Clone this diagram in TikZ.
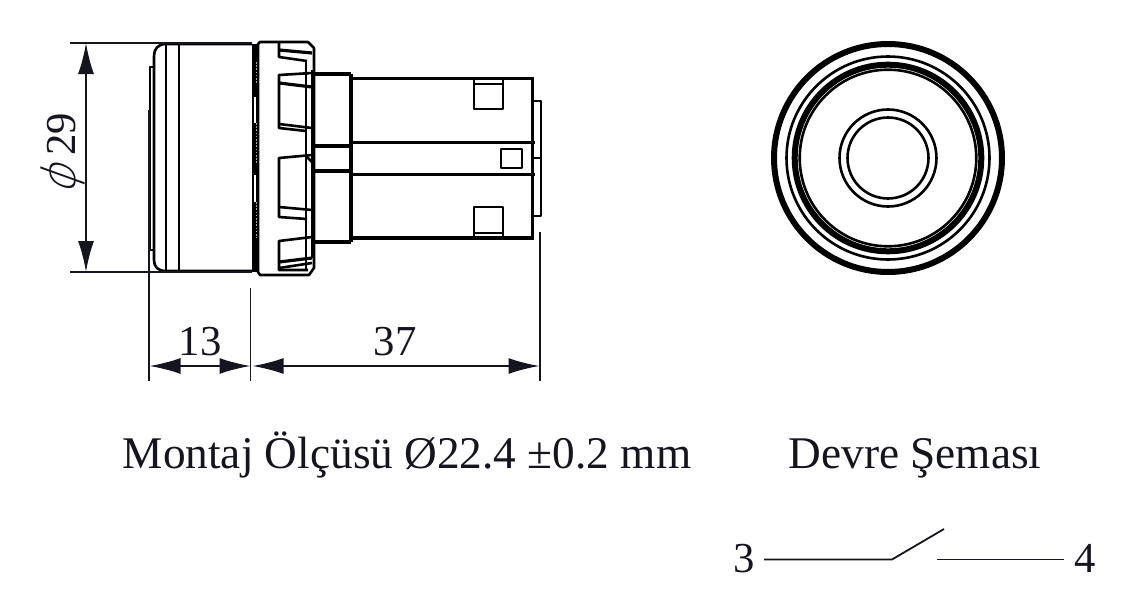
\documentclass[tikz,border=0pt]{standalone}
\usepackage{fontspec}
\setmainfont{Liberation Serif}
\newfontfamily\phifont[FakeSlant=0.36]{DejaVu Sans ExtraLight}
\usetikzlibrary{arrows.meta}
\definecolor{inkdim}{HTML}{15151F}
\tikzset{
  outline/.style={draw=black,line width=2.6pt,line join=round},
  heavy/.style={draw=black,line width=3.2pt},
  thin ext/.style={draw=inkdim,line width=1.7pt},
  dimline/.style={draw=inkdim,line width=1.9pt,{Latex[length=31pt,width=16pt]}-{Latex[length=31pt,width=16pt]}},
  label/.style={font=\fontsize{42.7}{50}\selectfont,text=inkdim,inner sep=0pt,anchor=base},
  caption/.style={font=\fontsize{45.3}{52}\selectfont,text=inkdim,inner sep=0pt,anchor=base},
  wire/.style={draw=inkdim,line width=1.8pt},
}
\begin{document}
\begin{tikzpicture}[x=1pt,y=-1pt]
\useasboundingbox (0,0) rectangle (1136,613);

% ---------- push-button head
\fill[black] (252,44) rectangle (258,272);
\fill[white] (253.6,97) rectangle (256.4,123);
\fill[white] (253.6,175) rectangle (256.4,202);
\foreach \a/\b in {62/83,123/163,202/238}
  \draw[white,line width=1.1pt,dash pattern=on 1.6pt off 1.6pt] (256.6,\a) -- (256.6,\b);
\draw[outline] (252,44) -- (166,44) .. controls (158,44) and (154,49) .. (154,56) -- (154,260)
   .. controls (154,267) and (158,271) .. (166,271) -- (252,271);
\draw[outline] (166,44) -- (166,271);
\draw[outline] (179,44) -- (179,271);
\draw[outline] (154,67) -- (150,67) -- (150,250) -- (154,250);

% ---------- collar
\draw[outline] (260,42) -- (308,42) -- (314,48) -- (314,268) -- (309,275) -- (260,275) -- (258,272) -- (258,44) -- cycle;
\draw[outline] (306,60) -- (306,270);
\draw[outline] (312,70) -- (312,258);
% tabs and windows of the collar
\draw[outline] (279,42) -- (279,57) -- (307,61);
\draw[heavy] (279,50) -- (312,53);
\draw[outline] (312,73) -- (279,75) -- (279,128) -- (306,131);
\draw[heavy] (279,83) -- (312,87);
\draw[outline] (279,124) -- (312,128);
\draw[outline] (312,155) -- (279,158) -- (279,217) -- (307,219);
\draw[outline] (279,207) -- (312,210);
\draw[outline] (306,156) -- (312,162);
\draw[outline] (312,237) -- (279,241) -- (279,270) -- (308,270);
\draw[heavy] (279,262) -- (312,258);
\draw[outline] (279,268) -- (312,263);

% ---------- rear body
\draw[heavy] (314,74) -- (351,74);
\draw[heavy] (314,146) -- (351,146);
\draw[heavy] (314,171) -- (351,171);
\draw[heavy] (314,242) -- (351,242);
\draw[heavy] (351,74) -- (351,242);
\draw[heavy] (351,78.5) -- (532.7,78.5) -- (532.7,238) -- (351,238);
\draw[outline] (351,142.3) -- (535,142.3);
\draw[outline] (351,174.3) -- (535,174.3);
\draw[outline] (474,78.5) rectangle (503,109);
\draw[outline] (474,84) -- (503,84);
\draw[outline] (474,207) rectangle (503,238);
\draw[outline] (474,233) -- (503,233);
\draw[outline] (501,149) rectangle (522,168);
\draw[outline] (532.7,101) -- (541,101) -- (541,216) -- (532.7,216);
\draw[outline] (532.7,158) -- (541,158);

% ---------- front view
\coordinate (fv) at (888,158);
\draw[black,line width=6pt] (fv) circle[radius=114];
\draw[black,line width=2.6pt] (fv) circle[radius=101.5];
\draw[black,line width=6pt] (fv) circle[radius=93.3];
\draw[black,line width=2.6pt] (fv) circle[radius=88.3];
\draw[black,line width=2.6pt] (fv) circle[radius=48.5];
\draw[black,line width=2.6pt] (fv) circle[radius=40.5];

% ---------- dimensions
\coordinate (dtl) at (70,43);
\coordinate (dtr) at (252,43);
\coordinate (dbl) at (70,272);
\coordinate (dbr) at (252,272);
\coordinate (da) at (86,43);
\coordinate (db) at (86,272);
\draw[thin ext] (dtl) -- (dtr);
\draw[thin ext] (dbl) -- (dbr);
\draw[dimline] (da) -- (db);
\coordinate (e1t) at (149,110);
\coordinate (e1b) at (149,381);
\coordinate (e2t) at (250.5,288);
\coordinate (e2b) at (250.5,381);
\coordinate (e3t) at (540,232);
\coordinate (e3b) at (540,381);
\draw[thin ext] (e1t) -- (e1b);
\draw[thin ext] (e2t) -- (e2b);
\draw[thin ext] (e3t) -- (e3b);
\coordinate (d1) at (149.5,366);
\coordinate (d2) at (250.5,366);
\coordinate (d3) at (252.5,366);
\coordinate (d4) at (539.5,366);
\draw[dimline] (d1) -- (d2);
\draw[dimline] (d3) -- (d4);

\node[label,rotate=90,anchor=base east] (dia) at (75,113) {{\phifont\fontsize{46}{50}\selectfont ϕ}\hspace{9pt}29};
\node[label] (w) at (200,355) {13};
\node[label] (l) at (395,355) {37};
\node[caption] (mount) at (407,468) {Montaj Ölçüsü Ø22.4 ±0.2 mm};
\node[caption] (sch) at (915,468) {Devre Şeması};

% ---------- switch symbol
\node[label] (t3) at (744.5,572) {3};
\node[label] (t4) at (1085,572) {4};
\coordinate (s1) at (764,559.5);
\coordinate (s2) at (892,559.5);
\coordinate (s3) at (944,529);
\coordinate (s4) at (937,559.5);
\coordinate (s5) at (1064,559.5);
\draw[wire,line join=round] (s1) -- (s2) -- (s3);
\draw[wire] (s4) -- (s5);
\end{tikzpicture}
\end{document}
